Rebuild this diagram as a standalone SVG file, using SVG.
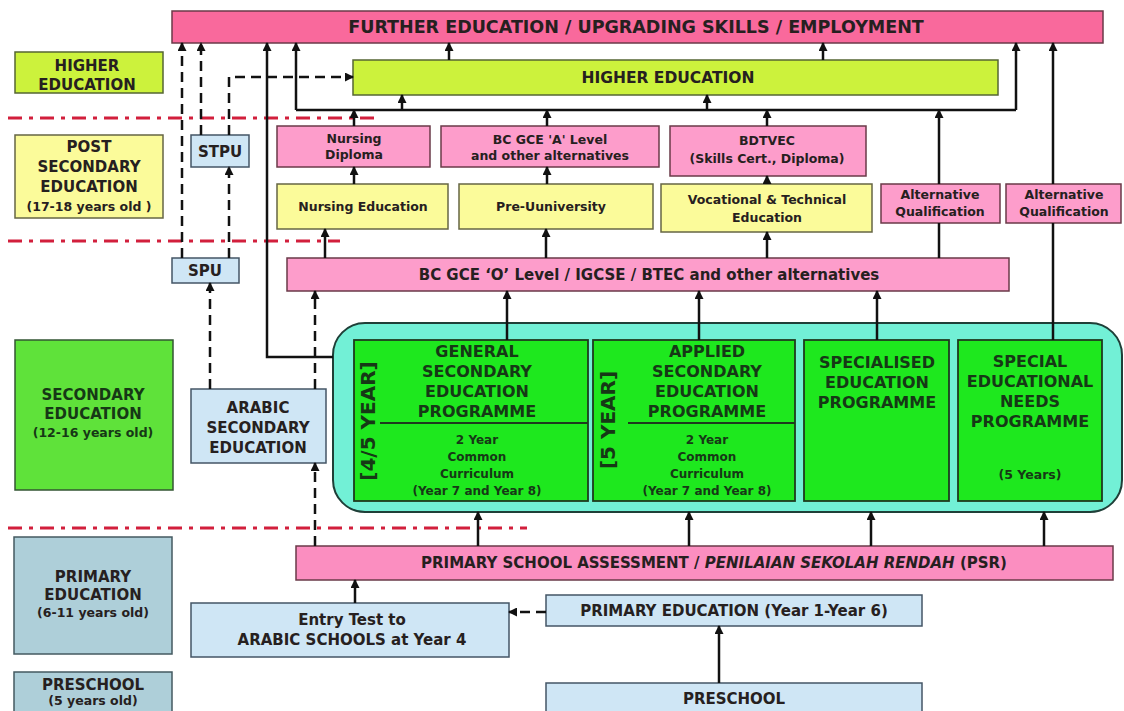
<svg xmlns="http://www.w3.org/2000/svg" width="1124" height="711" viewBox="0 0 1124 711">
<style>
.t{font-family:"DejaVu Sans",Verdana,sans-serif;font-weight:bold;text-anchor:middle;fill:#262020}
.f15{font-size:15px}.f12{font-size:12.5px}.f16{font-size:16px}.f11{font-size:12px}
.pinkTop{fill:#f9699c;stroke:#6a3a48;stroke-width:1.5}
.pink{fill:#fd9dcb;stroke:#6a3a48;stroke-width:1.5}
.lime{fill:#ccf23c;stroke:#556633;stroke-width:1.5}
.yel{fill:#fbfb9a;stroke:#666644;stroke-width:1.5}
.blue{fill:#cfe6f5;stroke:#445566;stroke-width:1.5}
.grn{fill:#1ee81e;stroke:#1e3a1e;stroke-width:1.8}
.grnL{fill:#5fe23a;stroke:#335533;stroke-width:1.5}
.teal{fill:#72f0d6;stroke:#1f3f38;stroke-width:2}
.prim{fill:#aecfd9;stroke:#445a60;stroke-width:1.5}
.c{fill:none;stroke:#111;stroke-width:2.5}
.d{fill:none;stroke:#111;stroke-width:2.5;stroke-dasharray:10 6}
.a{marker-end:url(#ah)}
.red{fill:none;stroke:#d21f3c;stroke-width:3;stroke-dasharray:14 7 4 7}
.dg{fill:#163816}
</style>
<defs>
<marker id="ah" markerUnits="userSpaceOnUse" markerWidth="9" markerHeight="9" refX="8" refY="4.5" orient="auto">
<path d="M0,0 L9,4.5 L0,9 z" fill="#111"/>
</marker>
</defs>

<g id="dividers">
<line class="red" x1="8" y1="118" x2="374" y2="118"/>
<line class="red" x1="8" y1="241" x2="340" y2="241"/>
<line class="red" x1="8" y1="528" x2="527" y2="528"/>
</g>

<g id="lbl-higher">
<rect class="lime" x="15" y="52" width="148" height="41"/>
<text class="t f15" x="87" y="71">HIGHER</text>
<text class="t f15" x="87" y="90">EDUCATION</text>
</g>
<g id="lbl-post">
<rect class="yel" x="15" y="135" width="148" height="83"/>
<text class="t f15" x="89" y="152">POST</text>
<text class="t f15" x="89" y="172">SECONDARY</text>
<text class="t f15" x="89" y="192">EDUCATION</text>
<text class="t f12" x="89" y="211">(17-18 years old )</text>
</g>
<g id="lbl-secondary">
<rect class="grnL" x="15" y="340" width="158" height="150"/>
<text class="t f15 dg" x="93" y="400">SECONDARY</text>
<text class="t f15 dg" x="93" y="419">EDUCATION</text>
<text class="t f12 dg" x="93" y="437">(12-16 years old)</text>
</g>
<g id="lbl-primary">
<rect class="prim" x="14" y="537" width="158" height="117"/>
<text class="t f15" x="93" y="582">PRIMARY</text>
<text class="t f15" x="93" y="600">EDUCATION</text>
<text class="t f12" x="93" y="617">(6-11 years old)</text>
</g>
<g id="lbl-preschool">
<rect class="prim" x="14" y="672" width="158" height="48"/>
<text class="t f15" x="93" y="690">PRESCHOOL</text>
<text class="t f12" x="93" y="705">(5 years old)</text>
</g>

<g id="further">
<rect class="pinkTop" x="172" y="11" width="931" height="32"/>
<text class="t" style="font-size:17.5px" x="636" y="33">FURTHER EDUCATION / UPGRADING SKILLS / EMPLOYMENT</text>
</g>
<g id="higher-ed">
<rect class="lime" x="353" y="60" width="645" height="35"/>
<text class="t" style="font-size:15.5px" x="668" y="83">HIGHER EDUCATION</text>
</g>
<g id="nursing-diploma">
<rect class="pink" x="277" y="126" width="153" height="41"/>
<text class="t f12" x="354" y="143">Nursing</text>
<text class="t f12" x="354" y="159">Diploma</text>
</g>
<g id="a-level">
<rect class="pink" x="441" y="126" width="218" height="41"/>
<text class="t f12" x="550" y="144">BC GCE 'A' Level</text>
<text class="t f12" x="550" y="160">and other alternatives</text>
</g>
<g id="bdtvec">
<rect class="pink" x="670" y="126" width="196" height="50"/>
<text class="t f12" x="767" y="145">BDTVEC</text>
<text class="t f12" x="767" y="163">(Skills Cert., Diploma)</text>
</g>
<g id="nursing-ed">
<rect class="yel" x="277" y="184" width="171" height="45"/>
<text class="t f12" x="363" y="211">Nursing Education</text>
</g>
<g id="pre-u">
<rect class="yel" x="459" y="184" width="194" height="45"/>
<text class="t f12" x="551" y="211">Pre-Uuniversity</text>
</g>
<g id="vocational">
<rect class="yel" x="661" y="184" width="211" height="48"/>
<text class="t f12" x="767" y="204">Vocational &amp; Technical</text>
<text class="t f12" x="767" y="222">Education</text>
</g>
<g id="alt1">
<rect class="pink" x="881" y="184" width="119" height="39"/>
<text class="t f12" x="940" y="199">Alternative</text>
<text class="t f12" x="940" y="216">Qualification</text>
</g>
<g id="alt2">
<rect class="pink" x="1006" y="184" width="115" height="39"/>
<text class="t f12" x="1064" y="199">Alternative</text>
<text class="t f12" x="1064" y="216">Qualification</text>
</g>
<g id="stpu">
<rect class="blue" x="191" y="135" width="58" height="32"/>
<text class="t f15" x="220" y="157">STPU</text>
</g>
<g id="spu">
<rect class="blue" x="172" y="258" width="67" height="25"/>
<text class="t f15" x="205" y="276">SPU</text>
</g>
<g id="o-level">
<rect class="pink" x="287" y="258" width="722" height="33"/>
<text class="t f15" x="649" y="280">BC GCE ‘O’ Level / IGCSE / BTEC and other alternatives</text>
</g>
<g id="arabic-sec">
<rect class="blue" x="191" y="389" width="135" height="74"/>
<text class="t f15" x="258" y="413">ARABIC</text>
<text class="t f15" x="258" y="433">SECONDARY</text>
<text class="t f15" x="258" y="453">EDUCATION</text>
</g>

<g id="secondary-programmes">
<rect class="teal" x="333" y="323" width="789" height="189" rx="32" ry="32"/>
</g>
<g id="general">
<rect class="grn" x="354" y="340" width="234" height="161"/>
<line x1="380" y1="423" x2="588" y2="423" stroke="#1e3a1e" stroke-width="1.8"/>
<text class="t f16 dg" x="477" y="357">GENERAL</text>
<text class="t f16 dg" x="477" y="377">SECONDARY</text>
<text class="t f16 dg" x="477" y="397">EDUCATION</text>
<text class="t f16 dg" x="477" y="417">PROGRAMME</text>
<text class="t f11 dg" x="477" y="444">2 Year</text>
<text class="t f11 dg" x="477" y="461">Common</text>
<text class="t f11 dg" x="477" y="478">Curriculum</text>
<text class="t f11 dg" x="477" y="495">(Year 7 and Year 8)</text>
<text class="t dg" style="font-size:20px" transform="translate(368,421) rotate(-90)" x="0" y="7">[4/5 YEAR]</text>
</g>
<g id="applied">
<rect class="grn" x="593" y="340" width="202" height="161"/>
<line x1="628" y1="423" x2="795" y2="423" stroke="#1e3a1e" stroke-width="1.8"/>
<text class="t f16 dg" x="707" y="357">APPLIED</text>
<text class="t f16 dg" x="707" y="377">SECONDARY</text>
<text class="t f16 dg" x="707" y="397">EDUCATION</text>
<text class="t f16 dg" x="707" y="417">PROGRAMME</text>
<text class="t f11 dg" x="707" y="444">2 Year</text>
<text class="t f11 dg" x="707" y="461">Common</text>
<text class="t f11 dg" x="707" y="478">Curriculum</text>
<text class="t f11 dg" x="707" y="495">(Year 7 and Year 8)</text>
<text class="t dg" style="font-size:20px" transform="translate(608,420) rotate(-90)" x="0" y="7">[5 YEAR]</text>
</g>
<g id="specialised">
<rect class="grn" x="804" y="340" width="145" height="161"/>
<text class="t f16 dg" x="877" y="368">SPECIALISED</text>
<text class="t f16 dg" x="877" y="388">EDUCATION</text>
<text class="t f16 dg" x="877" y="408">PROGRAMME</text>
</g>
<g id="sen">
<rect class="grn" x="958" y="340" width="144" height="161"/>
<text class="t f16 dg" x="1030" y="367">SPECIAL</text>
<text class="t f16 dg" x="1030" y="387">EDUCATIONAL</text>
<text class="t f16 dg" x="1030" y="407">NEEDS</text>
<text class="t f16 dg" x="1030" y="427">PROGRAMME</text>
<text class="t f12 dg" x="1030" y="479">(5 Years)</text>
</g>

<g id="psr">
<rect class="pinkTop" style="fill:#fb8ec0" x="296" y="546" width="817" height="34"/>
<text class="t f15" x="714" y="568">PRIMARY SCHOOL ASSESSMENT / <tspan font-style="italic">PENILAIAN SEKOLAH RENDAH</tspan> (PSR)</text>
</g>
<g id="entry-test">
<rect class="blue" x="191" y="603" width="318" height="54"/>
<text class="t f15" x="352" y="625">Entry Test to</text>
<text class="t f15" x="352" y="645">ARABIC SCHOOLS at Year 4</text>
</g>
<g id="primary-ed">
<rect class="blue" x="546" y="595" width="376" height="31"/>
<text class="t f15" x="734" y="616">PRIMARY EDUCATION (Year 1-Year 6)</text>
</g>
<g id="preschool">
<rect class="blue" x="546" y="683" width="376" height="40"/>
<text class="t f15" x="734" y="704">PRESCHOOL</text>
</g>

<g id="connectors">
<path class="c a" d="M333,357 H267 V43"/>
<path class="c" d="M296,110 H1016"/>
<path class="c a" d="M296,110 V43"/>
<path class="c a" d="M1016,110 V43"/>
<path class="c a" d="M402,110 V95"/>
<path class="c a" d="M707,110 V95"/>
<path class="c a" d="M449,60 V43"/>
<path class="c a" d="M823,60 V43"/>
<path class="c a" d="M354,126 V110"/>
<path class="c a" d="M547,126 V110"/>
<path class="c a" d="M767,126 V110"/>
<path class="c a" d="M939,184 V110"/>
<path class="c a" d="M354,184 V167"/>
<path class="c a" d="M547,184 V167"/>
<path class="c a" d="M767,184 V176"/>
<path class="c a" d="M325,258 V229"/>
<path class="c a" d="M546,258 V229"/>
<path class="c a" d="M767,258 V232"/>
<path class="c" d="M939,258 V223"/>
<path class="c a" d="M507,340 V291"/>
<path class="c a" d="M699,340 V291"/>
<path class="c a" d="M877,340 V291"/>
<path class="c" d="M1053,340 V223"/>
<path class="c a" d="M1053,184 V43"/>
<path class="c a" d="M478,546 V512"/>
<path class="c a" d="M689,546 V512"/>
<path class="c a" d="M871,546 V512"/>
<path class="c a" d="M1044,546 V512"/>
<path class="c a" d="M355,603 V580"/>
<path class="c a" d="M719,683 V626"/>
<path class="d a" d="M182,258 V43"/>
<path class="d a" d="M201,135 V43"/>
<path class="d a" d="M229,135 V77 H353"/>
<path class="d a" d="M229,258 V167"/>
<path class="d a" d="M210,389 V283"/>
<path class="d a" d="M315,389 V291"/>
<path class="d a" d="M315,546 V463"/>
<path class="d a" d="M546,612 H509"/>
</g>
</svg>
